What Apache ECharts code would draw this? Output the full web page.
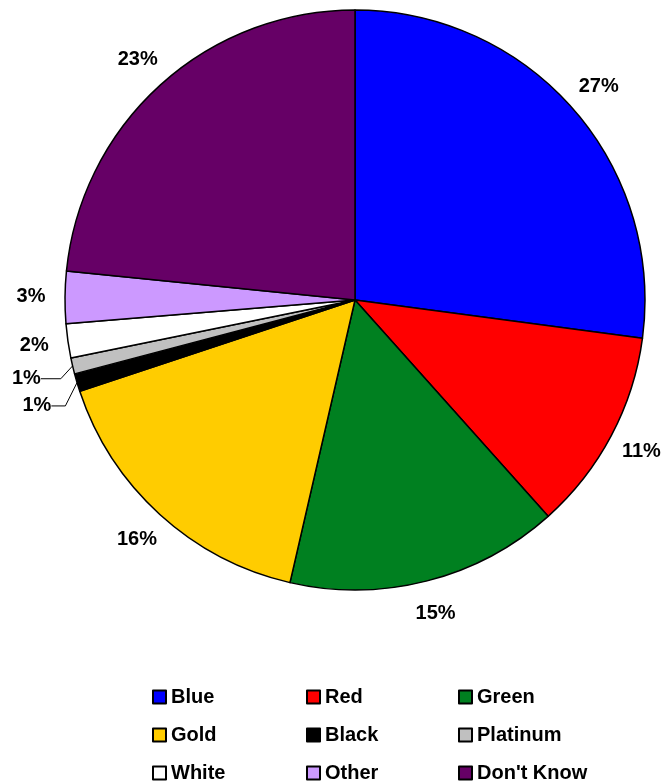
<!DOCTYPE html>
<html>
<head>
<meta charset="utf-8">
<script src="https://cdn.jsdelivr.net/npm/echarts@6/dist/echarts.min.js"></script>
<style>
html,body{margin:0;padding:0;background:#fff;}
#chart{width:664px;height:784px;}
</style>
</head>
<body>
<div id="chart"></div>
<script>
const categories = ['Blue', 'Red', 'Green', 'Gold', 'Black', 'Platinum', 'White', 'Other', "Don't Know"];
const values = [27.1, 11.3, 15.2, 16.3, 1.0, 0.9, 1.9, 2.9, 23.4];
const colors = ['#0000FF', '#FF0000', '#008020', '#FFCC00', '#000000', '#C0C0C0', '#FFFFFF', '#CC99FF', '#660066'];
const leaderLabels = ['Black', 'Platinum'];
const legendCols = [['Blue', 'Gold', 'White'], ['Red', 'Black', 'Other'], ['Green', 'Platinum', "Don't Know"]];

const FONT = 'Arial, "Liberation Sans", sans-serif';
const pctFmt = p => Math.round(p.percent) + '%';
const leaderShift = { 'Black': 21, 'Platinum': 11 };

const mainData = categories.map((name, i) => {
  const lead = leaderLabels.includes(name);
  return {
    name, value: values[i],
    itemStyle: { color: colors[i] },
    label: { show: lead },
    labelLine: { show: lead, length: 8, length2: name === 'Platinum' ? 20 : 14 }
  };
});
const ringData = categories.map((name, i) => ({
  name, value: values[i],
  label: { show: !leaderLabels.includes(name) }
}));

const chart = echarts.init(document.getElementById('chart'), null, { renderer: 'canvas' });
chart.setOption({
  animation: false,
  backgroundColor: '#ffffff',
  legend: legendCols.map((col, k) => ({
    data: col,
    orient: 'vertical',
    left: [152, 306, 458][k],
    top: 687,
    height: 100,
    padding: 0,
    itemWidth: 13,
    itemHeight: 13,
    itemGap: 18,
    icon: 'rect',
    selectedMode: false,
    itemStyle: { borderColor: '#000', borderWidth: 2 },
    textStyle: { fontFamily: FONT, fontWeight: 'bold', fontSize: 20, color: '#000', lineHeight: 20 }
  })),
  series: [
    {
      type: 'pie',
      center: [355, 300],
      radius: [0, 290],
      startAngle: 90,
      clockwise: true,
      avoidLabelOverlap: false,
      silent: true,
      itemStyle: { borderColor: '#000', borderWidth: 1.5 },
      label: {
        position: 'outside',
        formatter: pctFmt,
        fontFamily: FONT, fontWeight: 'bold', fontSize: 20, color: '#000',
        distanceToLabelLine: 4
      },
      labelLine: { lineStyle: { color: '#000', width: 1 } },
      labelLayout: p => {
        const s = leaderShift[categories[p.dataIndex]];
        return s ? { y: p.labelRect.y + p.labelRect.height / 2 + s } : {};
      },
      data: mainData
    },
    {
      type: 'pie',
      center: [355, 300],
      radius: [305, 337],
      startAngle: 90,
      clockwise: true,
      silent: true,
      legendHoverLink: false,
      itemStyle: { color: 'rgba(0,0,0,0)', borderWidth: 0 },
      label: {
        position: 'inside',
        formatter: pctFmt,
        fontFamily: FONT, fontWeight: 'bold', fontSize: 20, color: '#000'
      },
      labelLine: { show: false },
      data: ringData
    }
  ]
});
</script>
</body>
</html>
